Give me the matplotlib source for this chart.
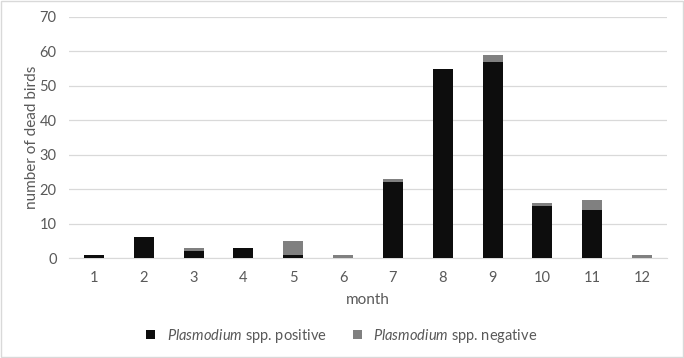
import matplotlib.pyplot as plt
import numpy as np

months = ["1", "2", "3", "4", "5", "6", "7", "8", "9", "10", "11", "12"]
positive = [1, 6, 2, 3, 1, 0, 22, 55, 57, 15, 14, 0]
negative = [0, 0, 1, 0, 4, 1, 1, 0, 2, 1, 3, 1]

plt.rcParams['font.family'] = ['Lato', 'DejaVu Sans']
plt.rcParams['mathtext.fontset'] = 'custom'
plt.rcParams['mathtext.it'] = 'Lato:italic'
txt = '#595959'

fig = plt.figure(figsize=(6.84, 3.58), dpi=100)
ax = fig.add_axes([0.101, 0.279, 0.874, 0.674])

x = np.arange(len(months))
ax.bar(x, positive, width=0.4, color='#0d0d0d', zorder=3,
       label=r'$\it{Plasmodium}$ spp. positive')
ax.bar(x, negative, width=0.4, bottom=positive, color='#808080', zorder=3,
       label=r'$\it{Plasmodium}$ spp. negative')

ax.set_xlim(-0.5, len(months) - 0.5)
ax.set_ylim(0, 70)
ax.set_yticks(range(0, 71, 10))
ax.set_xticks(x)
ax.set_xticklabels(months)
ax.grid(axis='y', color='#d9d9d9', linewidth=0.9, zorder=0)
for s in ax.spines.values():
    s.set_visible(False)
ax.spines['bottom'].set_visible(True)
ax.spines['bottom'].set_color('#d9d9d9')
ax.tick_params(length=0, colors=txt, labelsize=10.5, pad=9)
ax.tick_params(axis='y', pad=9)
ax.set_xlabel('month', color=txt, fontsize=11, labelpad=6)
ax.set_ylabel('number of dead birds', color=txt, fontsize=11, labelpad=0)

fig.legend(loc='center', bbox_to_anchor=(0.5, 0.062), ncol=2, frameon=False,
           fontsize=10.5, labelcolor=txt, handlelength=0.6, handleheight=0.6,
           columnspacing=1.8, handletextpad=0.8)

fig.add_artist(plt.Rectangle((0.002, 0.003), 0.996, 0.994, transform=fig.transFigure,
                             fill=False, edgecolor='#d9d9d9', linewidth=1))

fig.savefig('out.png', dpi=100)
